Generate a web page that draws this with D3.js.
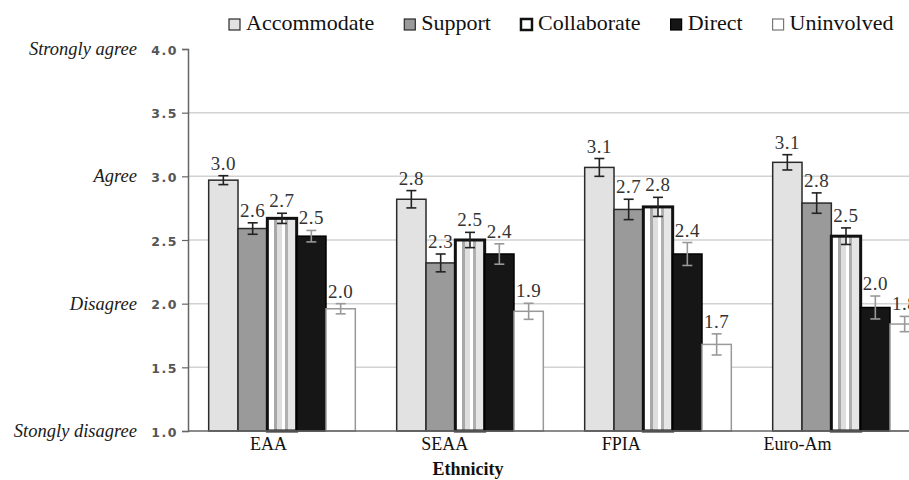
<!DOCTYPE html>
<html>
<head>
<meta charset="utf-8">
<script src="https://cdn.jsdelivr.net/npm/d3@7"></script>
<style>
  body { margin: 0; background: #fff; }
  svg { display: block; }
  .serif { font-family: "Liberation Serif", "Times New Roman", Times, "DejaVu Serif", serif; }
</style>
</head>
<body>
<script>
// chart values
let categories = ['EAA', 'SEAA', 'FPIA', 'Euro-Am'];
let series = ['Accommodate', 'Support', 'Collaborate', 'Direct', 'Uninvolved'];

let accommodate = [2.97, 2.82, 3.07, 3.11];
let support     = [2.59, 2.32, 2.74, 2.79];
let collaborate = [2.67, 2.50, 2.76, 2.53];
let direct      = [2.53, 2.39, 2.39, 1.97];
let uninvolved  = [1.96, 1.94, 1.68, 1.84];

let accommodateErr = [0.035, 0.068, 0.07, 0.06];
let supportErr     = [0.045, 0.07, 0.08, 0.08];
let collaborateErr = [0.04, 0.06, 0.075, 0.065];
let directErr      = [0.045, 0.08, 0.09, 0.09];
let uninvolvedErr  = [0.04, 0.063, 0.083, 0.06];

let yTicks = [1.0, 1.5, 2.0, 2.5, 3.0, 3.5, 4.0];
let gridTicks = [1.5, 2.0, 2.5, 3.0, 3.5];
let anchorValues = [4, 3, 2, 1];
let anchorLabels = ['Strongly agree', 'Agree', 'Disagree', 'Stongly disagree'];

let values = [accommodate, support, collaborate, direct, uninvolved];
let errors = [accommodateErr, supportErr, collaborateErr, directErr, uninvolvedErr];

let data = [];
categories.forEach((c, i) => {
  series.forEach((s, j) => {
    data.push({ cat: c, key: s, value: values[j][i], err: errors[j][i] });
  });
});

let
  width = 909,
  height = 480;

let margin = { top: 49, bottom: 49, left: 188, right: -31 };

let svg = d3.select('body')
            .append('svg')
            .attr('width', width)
            .attr('height', height);

let defs = svg.append('defs');
let grad = defs.append('linearGradient')
  .attr('id', 'stripes')
  .attr('x1', 0).attr('x2', 1).attr('y1', 0).attr('y2', 0);
[
  [0, '#ffffff'], [0.22, '#ffffff'], [0.22, '#a8a8a8'], [0.34, '#a8a8a8'],
  [0.34, '#dedede'], [0.5, '#dedede'], [0.5, '#ffffff'], [0.6, '#ffffff'],
  [0.6, '#b0b0b0'], [0.7, '#b0b0b0'], [0.7, '#e6e6e6'], [1, '#e6e6e6']
].forEach(s => grad.append('stop').attr('offset', s[0]).attr('stop-color', s[1]));

let style = {
  Accommodate: { fill: '#e2e2e2', stroke: '#2a2a2a', sw: 1.5, err: '#222' },
  Support:     { fill: '#9a9a9a', stroke: '#2a2a2a', sw: 1.5, err: '#222' },
  Collaborate: { fill: 'url(#stripes)', stroke: '#111', sw: 3, err: '#222' },
  Direct:      { fill: '#161616', stroke: '#000', sw: 1.5, err: '#999' },
  Uninvolved:  { fill: '#ffffff', stroke: '#999', sw: 1.5, err: '#999' }
};

let yScale = d3.scaleLinear()
              .domain([1, 4])
              .range([height - margin.bottom, margin.top]);

let xScale = d3.scaleBand()
            .domain(categories)
            .range([margin.left, width - margin.right])
            .paddingInner(0.22)
            .paddingOuter(0.11);

let xSub = d3.scaleBand()
            .domain(series)
            .range([0, xScale.bandwidth()]);

// category labels in the picture sit left of the group centres
let labelScale = d3.scalePoint()
            .domain(categories)
            .range([268, 797]);

// grid
svg.append('g')
  .selectAll('line')
  .data(gridTicks)
  .enter()
  .append('line')
  .attr('x1', margin.left)
  .attr('x2', width)
  .attr('y1', d => yScale(d))
  .attr('y2', d => yScale(d))
  .attr('stroke', '#d2d2d2')
  .attr('stroke-width', 1.5);

// y axis
let yAxis = svg.append('g')
  .attr('transform', `translate(${margin.left}, 0)`)
  .call(d3.axisLeft(yScale).tickValues(yTicks).tickFormat(d3.format('.1f')).tickSize(6));
yAxis.select('.domain').attr('stroke', '#666').attr('stroke-width', 1.5);
yAxis.selectAll('.tick line').attr('stroke', '#666').attr('stroke-width', 1.2);
yAxis.selectAll('.tick text')
  .attr('x', -10)
  .attr('dy', '0.4em')
  .style('font-family', 'DejaVu Sans')
  .style('font-size', '12.5px')
  .style('font-weight', 'bold')
  .style('letter-spacing', '1.5px')
  .attr('fill', '#555');

// anchor labels
svg.append('g')
  .selectAll('text')
  .data(anchorValues)
  .enter()
  .append('text')
  .attr('class', 'serif')
  .attr('x', 137)
  .attr('y', d => yScale(d) + 6)
  .attr('text-anchor', 'end')
  .style('font-style', 'italic')
  .style('font-size', '18.5px')
  .attr('fill', '#1a1a1a')
  .text((d, i) => anchorLabels[i]);

// bars
let groups = svg.append('g')
  .selectAll('g')
  .data(data)
  .enter()
  .append('g')
  .attr('transform', d => `translate(${xScale(d.cat) + xSub(d.key)}, 0)`);

groups.append('rect')
  .attr('x', 0)
  .attr('y', d => yScale(d.value))
  .attr('width', xSub.bandwidth())
  .attr('height', d => yScale(1) - yScale(d.value))
  .attr('fill', d => style[d.key].fill)
  .attr('stroke', d => style[d.key].stroke)
  .attr('stroke-width', d => style[d.key].sw);

// error bars
let cx = xSub.bandwidth() / 2;
groups.append('line')
  .attr('x1', cx).attr('x2', cx)
  .attr('y1', d => yScale(d.value + d.err))
  .attr('y2', d => yScale(d.value - d.err))
  .attr('stroke', d => style[d.key].err)
  .attr('stroke-width', 1.6);
groups.selectAll('.cap')
  .data(d => [{ v: d.value + d.err, k: d.key }, { v: d.value - d.err, k: d.key }])
  .enter()
  .append('line')
  .attr('x1', cx - 5).attr('x2', cx + 5)
  .attr('y1', d => yScale(d.v))
  .attr('y2', d => yScale(d.v))
  .attr('stroke', d => style[d.k].err)
  .attr('stroke-width', 1.6);

// value labels
groups.append('text')
  .attr('class', 'serif')
  .attr('x', cx)
  .attr('y', d => yScale(d.value + d.err) - 6)
  .attr('text-anchor', 'middle')
  .style('font-size', '19px')
  .style('letter-spacing', '0.5px')
  .attr('fill', '#333')
  .text(d => d3.format('.1f')(d.value));

// x axis line
svg.append('line')
  .attr('x1', margin.left).attr('x2', width)
  .attr('y1', yScale(1)).attr('y2', yScale(1))
  .attr('stroke', '#666')
  .attr('stroke-width', 1.5);

let xAxis = svg.append('g')
  .attr('transform', `translate(0, ${yScale(1)})`)
  .call(d3.axisBottom(labelScale).tickSize(0).tickPadding(6));
xAxis.select('.domain').remove();
xAxis.selectAll('.tick text')
  .attr('class', 'serif')
  .style('font-size', '18px')
  .attr('fill', '#111');

svg.append('text')
  .attr('class', 'serif')
  .attr('x', 468)
  .attr('y', 475)
  .attr('text-anchor', 'middle')
  .style('font-size', '18px')
  .style('font-weight', 'bold')
  .attr('fill', '#111')
  .text('Ethnicity');

// legend
let legend = svg.append('g');
let lx = 229;
series.forEach(s => {
  let st = style[s];
  legend.append('rect')
    .attr('x', lx).attr('y', 19)
    .attr('width', 11).attr('height', 11)
    .attr('fill', s === 'Collaborate' ? '#fff' : st.fill)
    .attr('stroke', s === 'Uninvolved' ? '#777' : st.stroke)
    .attr('stroke-width', s === 'Collaborate' ? 2.5 : 1.2);
  let t = legend.append('text')
    .attr('class', 'serif')
    .attr('x', lx + 17).attr('y', 30)
    .style('font-size', '22px')
    .attr('fill', '#111')
    .text(s);
  lx += 17 + t.node().getComputedTextLength() + 30;
});
</script>
</body>
</html>
